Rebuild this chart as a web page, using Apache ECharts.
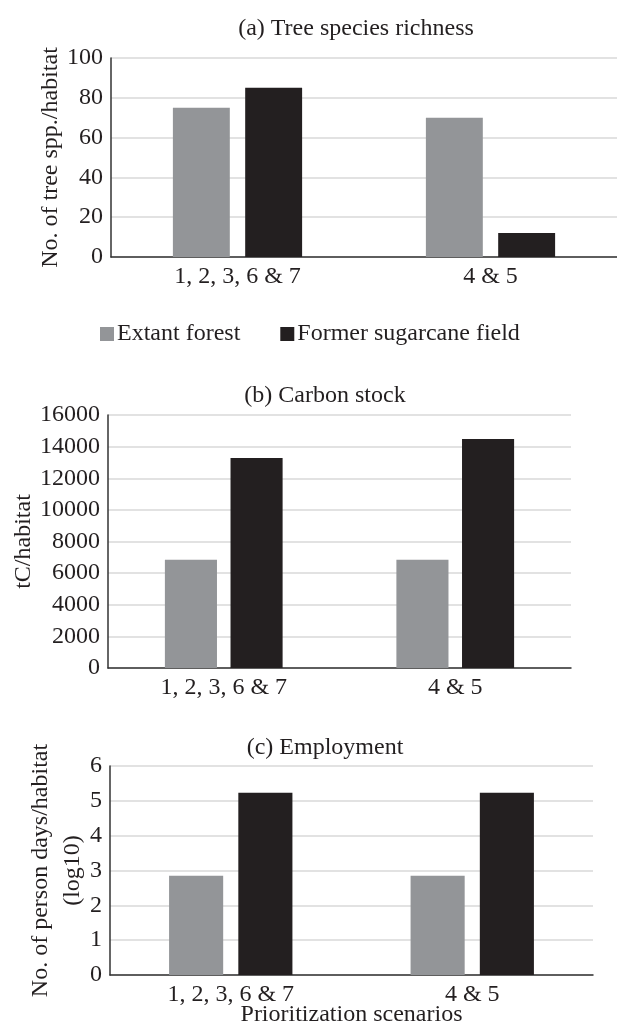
<!DOCTYPE html>
<html>
<head>
<meta charset="utf-8">
<script src="https://cdn.jsdelivr.net/npm/echarts@6/dist/echarts.min.js"></script>
<style>
  html, body { margin: 0; padding: 0; background: #fff; }
  #main { width: 617px; height: 1025px; }
</style>
</head>
<body>
<div id="main"></div>
<script>
// 数据
var categories = ['1, 2, 3, 6 & 7', '4 & 5'];
var seriesNames = ['Extant forest', 'Former sugarcane field'];
var richnessExtant = [75, 70];
var richnessFormer = [85, 12];
var carbonExtant = [6850, 6850];
var carbonFormer = [13280, 14480];
var employExtant = [2.85, 2.85];
var employFormer = [5.23, 5.23];

var FONT = '"Liberation Serif", "Times New Roman", serif';
var TXT = '#231f20';
var GREY = '#939598';
var BLACK = '#231f20';

var chart = echarts.init(document.getElementById('main'));

function xAx(idx, margin, name) {
  return {
    type: 'category',
    gridIndex: idx,
    data: categories,
    axisTick: { show: false },
    axisLine: { lineStyle: { color: '#333', width: 1.5 } },
    axisLabel: { color: TXT, fontFamily: FONT, fontSize: 24, margin: margin },
    name: name || '',
    nameLocation: 'middle',
    nameGap: 28,
    nameMoveOverlap: false,
    nameTextStyle: { color: TXT, fontFamily: FONT, fontSize: 24 }
  };
}

function yAx(idx, max, interval, name, gap, lh) {
  return {
    type: 'value',
    gridIndex: idx,
    min: 0,
    max: max,
    interval: interval,
    axisLine: { show: true, lineStyle: { color: '#333', width: 1.5 } },
    axisTick: { show: false },
    splitLine: { lineStyle: { color: '#d9d9d9', width: 1.5 } },
    axisLabel: {
      color: TXT, fontFamily: FONT, fontSize: 24, margin: 8,
      formatter: function (v) { return String(v); }
    },
    name: name,
    nameLocation: 'middle',
    nameGap: gap,
    nameMoveOverlap: false,
    nameTextStyle: { color: TXT, fontFamily: FONT, fontSize: 24, lineHeight: lh || 28 }
  };
}

function bars(idx, extant, former, width, gap) {
  return [{
    name: seriesNames[0],
    type: 'bar',
    xAxisIndex: idx,
    yAxisIndex: idx,
    data: extant,
    barWidth: width,
    barGap: gap,
    itemStyle: { color: GREY },
    emphasis: { disabled: true }
  }, {
    name: seriesNames[1],
    type: 'bar',
    xAxisIndex: idx,
    yAxisIndex: idx,
    data: former,
    barWidth: width,
    barGap: gap,
    itemStyle: { color: BLACK },
    emphasis: { disabled: true }
  }];
}

var titleStyle = { color: TXT, fontFamily: FONT, fontSize: 24, fontWeight: 'normal' };

var option = {
  animation: false,
  backgroundColor: '#fff',
  title: [
    { text: '(a) Tree species richness', left: 351, top: 12, textAlign: 'center', textStyle: titleStyle },
    { text: '(b) Carbon stock', left: 320, top: 379, textAlign: 'center', textStyle: titleStyle },
    { text: '(c) Employment', left: 320, top: 731, textAlign: 'center', textStyle: titleStyle }
  ],
  legend: {
    data: seriesNames,
    left: 100,
    top: 322,
    padding: 0,
    icon: 'rect',
    itemWidth: 14,
    itemHeight: 14,
    itemGap: 40,
    textStyle: { color: TXT, fontFamily: FONT, fontSize: 24, padding: [0, 0, 0, -2] },
    selectedMode: false
  },
  grid: [
    { left: 111, right: 0, top: 58, height: 199, outerBoundsMode: 'none' },
    { left: 108, right: 46, top: 415, height: 253, outerBoundsMode: 'none' },
    { left: 110, right: 24, top: 766, height: 209, outerBoundsMode: 'none' }
  ],
  xAxis: [xAx(0, 8), xAx(1, 8), xAx(2, 8, 'Prioritization scenarios')],
  yAxis: [
    yAx(0, 100, 20, 'No. of tree spp./habitat', 46),
    yAx(1, 16000, 2000, 'tC/habitat', 70),
    yAx(2, 6, 1, 'No. of person days/habitat\n(log10)', 21, 32)
  ],
  series: [].concat(
    bars(0, richnessExtant, richnessFormer, '22.5%', '27%'),
    bars(1, carbonExtant, carbonFormer, '22.5%', '26%'),
    bars(2, employExtant, employFormer, '22.4%', '28%')
  )
};

chart.setOption(option);
</script>
</body>
</html>
